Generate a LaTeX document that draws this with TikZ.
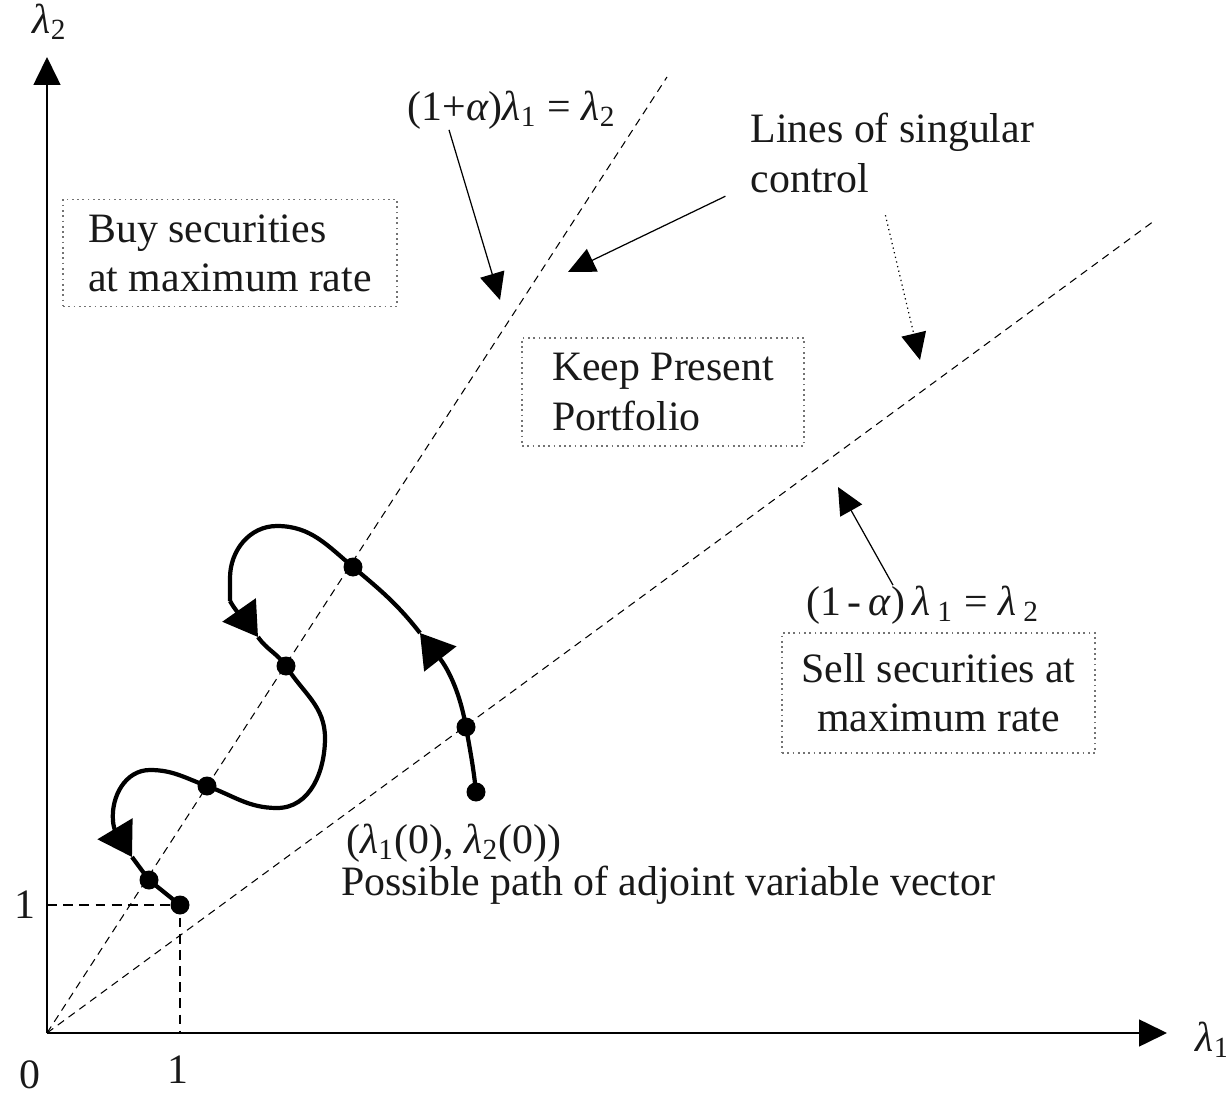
\documentclass[tikz,border=0pt]{standalone}
\usepackage{fontspec}
\setmainfont{Liberation Serif}
\usetikzlibrary{arrows.meta}

\begin{document}
\begin{tikzpicture}[
    txt/.style={font=\fontsize{11.9}{14}\selectfont, inner sep=0pt, text=black!90},
    region/.style={txt, draw=black!55, densely dotted, line width=0.5pt, align=left},
    dot/.style={circle, fill=black, inner sep=0pt, minimum size=1.9mm},
    trail/.style={line width=1.2pt},
    guide/.style={line width=0.3pt, dash pattern=on 2.2pt off 1.6pt},
    note/.style={line width=0.35pt, -{Triangle[length=2.7mm,width=2.5mm]}},
    axis/.style={line width=0.45pt, -{Triangle[length=2.8mm,width=2.7mm]}},
    mid/.style={-{Triangle[length=3.3mm,width=4mm]}}
]
\useasboundingbox (-0.47,-0.63) rectangle (11.79,10.33);

% axes
\coordinate (o) at (0,0);
\coordinate (xend) at (11.20,0);
\coordinate (yend) at (0,9.76);
\draw[axis] (o) -- (xend);
\draw[axis] (o) -- (yend);
\node[txt] (lam1) at (11.66,-0.07) {\textit{λ}\textsubscript{1}};
\node[txt] (lam2) at (0.03,10.11) {\textit{λ}\textsubscript{2}};
\node[txt] (zero) at (-0.17,-0.42) {0};
\node[txt] (onex) at (1.31,-0.37) {1};
\node[txt] (oney) at (-0.22,1.28) {1};

% lines of singular control
\coordinate (buyend) at (6.20,9.56);
\coordinate (sellend) at (11.07,8.12);
\draw[guide] (o) -- (buyend);
\draw[guide] (o) -- (sellend);

% path of the adjoint vector
\node[dot] (p0) at (4.29,2.41) {};
\node[dot] (p1) at (4.19,3.06) {};
\node[dot] (p2) at (3.06,4.66) {};
\node[dot] (p3) at (2.39,3.67) {};
\node[dot] (p4) at (1.60,2.47) {};
\node[dot] (p5) at (1.02,1.53) {};
\node[dot] (p6) at (1.33,1.28) {};
\coordinate (a1) at (3.73,4.00);
\coordinate (a2) at (2.11,3.96);
\coordinate (a3) at (0.85,1.76);
\coordinate (xmark) at (1.33,0);
\coordinate (ymark) at (0,1.28);
\draw[guide, dash pattern=on 2.8pt off 1.8pt] (ymark) -- (p6.center) -- (xmark);

\draw[trail, mid] (p0.center) to[out=96,in=-80] (p1.center) to[out=100,in=-52] (a1);
\draw[trail] (a1) to[out=128,in=-40] (p2.center) to[out=140,in=0] (2.30,5.07)
    to[out=180,in=90] (1.83,4.55) -- (1.83,4.32);
\draw[trail, mid] (1.83,4.32) to[out=-60,in=125] (a2);
\draw[trail] (a2) to[out=-55,in=125] (p3.center) to[out=-58,in=90] (2.78,2.95)
    to[out=-90,in=0] (2.30,2.25) to[out=180,in=-20] (p4.center)
    to[out=160,in=0] (1.03,2.63) to[out=180,in=95] (0.66,2.12);
\draw[trail, mid] (0.66,2.12) to[out=-85,in=121] (a3);
\draw[trail] (a3) -- (p5.center) -- (p6.center);

% regions
\node[region, minimum width=3.34cm, minimum height=1.07cm] (buy) at (1.83,7.80)
    {Buy securities\\at maximum rate};
\node[region, minimum width=2.82cm, minimum height=1.08cm] (keep) at (6.16,6.41)
    {Keep Present\\Portfolio};
\node[region, align=center, minimum width=3.13cm, minimum height=1.20cm] (sell) at (8.915,3.40)
    {Sell securities at\\maximum rate};

% labels
\node[txt] (plus) at (4.65,9.23)
    {(1+\textit{α})\textit{λ}\textsubscript{1} = \textit{λ}\textsubscript{2}};
\node[txt] (minus) at (8.76,4.28)
    {(1\,-\,\textit{α})\,\textit{λ}\,\textsubscript{1} = \textit{λ}\,\textsubscript{2}};
\node[txt, anchor=west, align=left] (sing) at (7.03,8.80) {Lines of singular\\control};
\node[txt] (init) at (4.07,1.90)
    {(\textit{λ}\textsubscript{1}(0), \textit{λ}\textsubscript{2}(0))};
\node[txt] (poss) at (6.21,1.48) {Possible path of adjoint variable vector};

% pointers
\coordinate (tipplus) at (4.53,7.33);
\coordinate (tipsa) at (5.21,7.61);
\coordinate (tipsb) at (8.73,6.73);
\coordinate (tipminus) at (7.91,5.46);
\draw[note] ([xshift=-0.63cm]plus.south) -- (tipplus);
\draw[note] ([xshift=-1.67cm,yshift=-0.03cm]sing.south) -- (tipsa);
\draw[note, densely dotted] ([xshift=-0.07cm,yshift=-0.22cm]sing.south) -- (tipsb);
\draw[note] ([xshift=-0.30cm]minus.north) -- (tipminus);
\end{tikzpicture}
\end{document}
